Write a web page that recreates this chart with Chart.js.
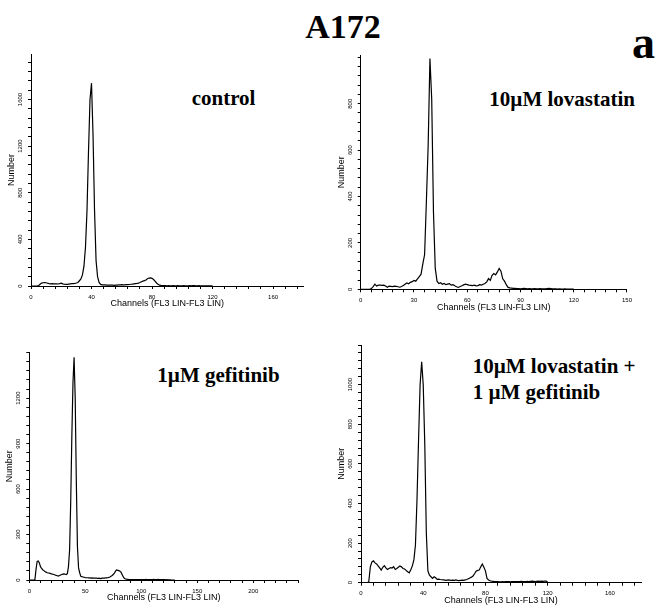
<!DOCTYPE html>
<html>
<head>
<meta charset="utf-8">
<script src="https://cdn.jsdelivr.net/npm/chart.js@4.4.0/dist/chart.umd.min.js"></script>
<style>
  html, body { margin: 0; padding: 0; background: #fff; }
  #page { position: relative; width: 658px; height: 613px; overflow: hidden; background: #fff; }
  #page canvas { position: absolute; }
  .lbl { position: absolute; font-family: "Liberation Serif", "Times New Roman", serif; font-weight: bold; color: #000; white-space: nowrap; line-height: 1; }
</style>
</head>
<body>
<div id="page">
  <div class="lbl" style="left:243px; top:9.5px; width:200px; text-align:center; font-size:34px;">A172</div>
  <div class="lbl" style="left:632px; top:19.8px; font-size:46px;">a</div>
  <div class="lbl" style="left:191.7px; top:88.4px; font-size:21px;">control</div>
  <div class="lbl" style="left:489.3px; top:89.1px; font-size:21px;">10µM lovastatin</div>
  <div class="lbl" style="left:157.3px; top:365.1px; font-size:21px;">1µM gefitinib</div>
  <div class="lbl" style="left:472.7px; top:354.4px; font-size:21px; line-height:25.7px;">10µM lovastatin +<br>1 µM gefitinib</div>
</div>
<script>
// cell counts per channel, starting at channel 0
const controlCounts = [
  0, 0, 0, 0, 0, 3, 15, 25, 28, 30,
  28, 24, 20, 18, 20, 18, 19, 18, 17, 20,
  24, 18, 15, 14, 14, 16, 18, 20, 21, 23,
  26, 30, 45, 60, 95, 170, 330, 640, 1150, 1600,
  1740, 1300, 650, 220, 80, 30, 14, 10, 9, 10,
  8, 8, 7, 7, 8, 6, 7, 8, 9, 10,
  12, 9, 10, 11, 12, 13, 15, 16, 18, 20,
  22, 25, 30, 36, 42, 46, 52, 62, 68, 70,
  66, 56, 42, 26, 14, 7, 5, 4, 3, 3,
  2, 3, 2, 2, 3, 2, 2, 3, 2, 2,
  2, 3, 2, 2, 2, 3, 2, 4, 3, 2,
  2, 3, 2, 2, 1, 2, 1, 1, 2, 1, 1
];
const lovastatinCounts = [
  0, 0, 0, 0, 0, 0, 3, 12, 22, 14,
  18, 18, 17, 18, 14, 9, 14, 13, 12, 14,
  13, 11, 9, 12, 16, 22, 27, 24, 30, 33,
  38, 35, 45, 55, 65, 110, 150, 380, 620, 995,
  820, 330, 90, 35, 25, 28, 22, 25, 20, 22,
  24, 18, 20, 15, 11, 8, 12, 15, 19, 22,
  20, 18, 17, 16, 18, 15, 16, 20, 18, 22,
  25, 32, 46, 38, 60, 68, 62, 75, 90, 78,
  45, 35, 20, 8, 6, 5, 4, 4, 3, 3,
  2, 3, 4, 3, 2, 3, 2, 2, 3, 2,
  2, 3, 2, 2, 2, 3, 4, 3, 2, 2,
  2, 1, 2, 1, 1, 2, 1, 1, 1, 1, 1
];
const gefitinibCounts = [
  0, 0, 0, 0, 0, 2, 70, 122, 125, 112,
  88, 76, 68, 62, 56, 52, 48, 46, 45, 42,
  40, 38, 36, 33, 30, 28, 26, 30, 33, 36,
  39, 40, 38, 36, 42, 90, 200, 520, 950, 1300,
  1470, 1200, 650, 220, 80, 48, 25, 22, 20, 18,
  16, 15, 15, 14, 14, 13, 14, 12, 13, 12,
  12, 10, 12, 11, 9, 12, 13, 12, 14, 14,
  15, 17, 20, 24, 30, 36, 45, 58, 66, 64,
  62, 58, 50, 35, 20, 10, 7, 5, 4, 3,
  3, 2, 3, 2, 2, 3, 2, 2, 3, 2,
  3, 2, 2, 3, 4, 3, 2, 3, 2, 2,
  3, 4, 3, 2, 3, 4, 3, 2, 2, 3,
  2, 2, 1, 2, 1, 1, 1, 0, 0, 0, 0
];
const comboCounts = [
  0, 0, 0, 0, 0, 5, 80, 105, 110, 100,
  95, 85, 75, 64, 78, 86, 75, 67, 72, 76,
  74, 81, 67, 72, 78, 84, 80, 72, 69, 62,
  55, 50, 65, 85, 115, 190, 420, 720, 1000, 1115,
  1000, 700, 250, 60, 38, 30, 22, 30, 25, 17,
  18, 16, 15, 14, 13, 12, 14, 13, 12, 13,
  12, 14, 12, 11, 12, 13, 12, 14, 16, 20,
  24, 28, 34, 45, 58, 62, 64, 80, 94, 78,
  60, 22, 14, 10, 8, 7, 6, 5, 5, 4,
  4, 5, 4, 5, 6, 5, 4, 5, 6, 5,
  6, 5, 6, 7, 6, 5, 6, 7, 6, 7,
  8, 7, 6, 7, 8, 7, 8, 7, 8, 8,
  2, 1, 1, 1, 1, 1
];

// axis ranges: [max, minor tick step]
const controlX = [180, 8], controlY = [1990, 80];
const lovastatinX = [150, 6], lovastatinY = [1010, 40];
const gefitinibX = [240, 10], gefitinibY = [1500, 60];
const comboX = [180, 8], comboY = [1200, 40];

// labelled tick values
const controlXLabels = [0, 40, 80, 120, 160], controlYLabels = [0, 400, 800, 1200, 1600];
const lovastatinXLabels = [0, 30, 60, 90, 120, 150], lovastatinYLabels = [0, 200, 400, 600, 800];
const gefitinibXLabels = [0, 50, 100, 150, 200], gefitinibYLabels = [0, 300, 600, 900, 1200];
const comboXLabels = [0, 40, 80, 120, 160], comboYLabels = [0, 200, 400, 600, 800, 1000];

const xTitle = 'Channels (FL3 LIN-FL3 LIN)';
const yTitle = 'Number';

const sans = '"Liberation Sans", Arial, sans-serif';
const Y_AXIS_W = 30, X_AXIS_H = 26;

// plot area of each panel on the page
const panels = [
  { counts: controlCounts, xr: controlX, yr: controlY, xl: controlXLabels, yl: controlYLabels, area: { l: 31, r: 303.3, t: 54, b: 286 }, padR: 14 },
  { counts: lovastatinCounts, xr: lovastatinX, yr: lovastatinY, xl: lovastatinXLabels, yl: lovastatinYLabels, area: { l: 360.7, r: 634, t: 55, b: 289.3 }, padR: 3 },
  { counts: gefitinibCounts, xr: gefitinibX, yr: gefitinibY, xl: gefitinibXLabels, yl: gefitinibYLabels, area: { l: 29.3, r: 298, t: 352.7, b: 580 }, padR: 14 },
  { counts: comboCounts, xr: comboX, yr: comboY, xl: comboXLabels, yl: comboYLabels, area: { l: 361, r: 641, t: 345, b: 582.7 }, padR: 12 }
];

function tickList(max, step) {
  const out = [];
  for (let v = 0; v <= max + 1e-9; v += step) out.push({ value: v });
  return out;
}

// vertical y tick labels, reading bottom to top
const yTickLabels = {
  id: 'yTickLabels',
  afterDraw(chart, args, opts) {
    const ctx = chart.ctx, ys = chart.scales.y;
    const x = chart.chartArea.left - 10.5;
    ctx.save();
    ctx.fillStyle = '#000';
    ctx.font = '6px ' + sans;
    ctx.textAlign = 'center';
    ctx.textBaseline = 'middle';
    opts.values.forEach(v => {
      ctx.save();
      ctx.translate(x, ys.getPixelForValue(v));
      ctx.rotate(-Math.PI / 2);
      ctx.fillText(String(v), 0, 0);
      ctx.restore();
    });
    ctx.restore();
  }
};

const page = document.getElementById('page');

panels.forEach(p => {
  const a = p.area;
  const cl = Math.floor(a.l) - Y_AXIS_W;
  const ct = Math.floor(a.t) - 6;
  const cr = Math.ceil(a.r) + p.padR;
  const cb = Math.ceil(a.b) + X_AXIS_H + 2;
  const cv = document.createElement('canvas');
  cv.width = cr - cl;
  cv.height = cb - ct;
  cv.style.left = cl + 'px';
  cv.style.top = ct + 'px';
  page.appendChild(cv);

  const [xMax, xStep] = p.xr;
  const [yMax, yStep] = p.yr;

  new Chart(cv, {
    type: 'line',
    data: {
      datasets: [{
        data: p.counts.map((v, i) => ({ x: i, y: v })),
        borderColor: '#000',
        borderWidth: 1.2,
        pointRadius: 0,
        tension: 0,
        fill: false
      }]
    },
    options: {
      responsive: false,
      animation: false,
      events: [],
      layout: {
        autoPadding: false,
        padding: { left: a.l - Y_AXIS_W - cl, top: a.t - ct, right: cr - a.r, bottom: cb - a.b - X_AXIS_H }
      },
      plugins: {
        legend: { display: false },
        tooltip: { enabled: false },
        yTickLabels: { values: p.yl }
      },
      scales: {
        x: {
          type: 'linear',
          min: 0,
          max: xMax,
          afterBuildTicks: s => { s.ticks = tickList(xMax, xStep); },
          afterFit: s => { s.height = X_AXIS_H; },
          grid: { display: true, drawOnChartArea: false, drawTicks: true, tickLength: 3, color: '#000', lineWidth: 1 },
          border: { display: true, color: '#000', width: 1 },
          ticks: {
            autoSkip: false, maxRotation: 0, minRotation: 0, padding: 5, color: '#000',
            font: { family: sans, size: 6, lineHeight: 1 },
            callback: v => (p.xl.includes(v) ? String(v) : '')
          },
          title: {
            display: true, text: xTitle, color: '#000',
            font: { family: sans, size: 9, lineHeight: 1 },
            padding: { top: 0, bottom: 3.5 }
          }
        },
        y: {
          type: 'linear',
          min: 0,
          max: yMax,
          afterBuildTicks: s => { s.ticks = tickList(yMax, yStep); },
          afterFit: s => { s.width = Y_AXIS_W; },
          grid: { display: true, drawOnChartArea: false, drawTicks: true, tickLength: 3, color: '#000', lineWidth: 1 },
          border: { display: true, color: '#000', width: 1 },
          ticks: { display: false },
          title: {
            display: true, text: yTitle, color: '#000',
            font: { family: sans, size: 9, lineHeight: 1 },
            padding: { top: 6.2, bottom: 0 }
          }
        }
      }
    },
    plugins: [yTickLabels]
  });
});
</script>
</body>
</html>
